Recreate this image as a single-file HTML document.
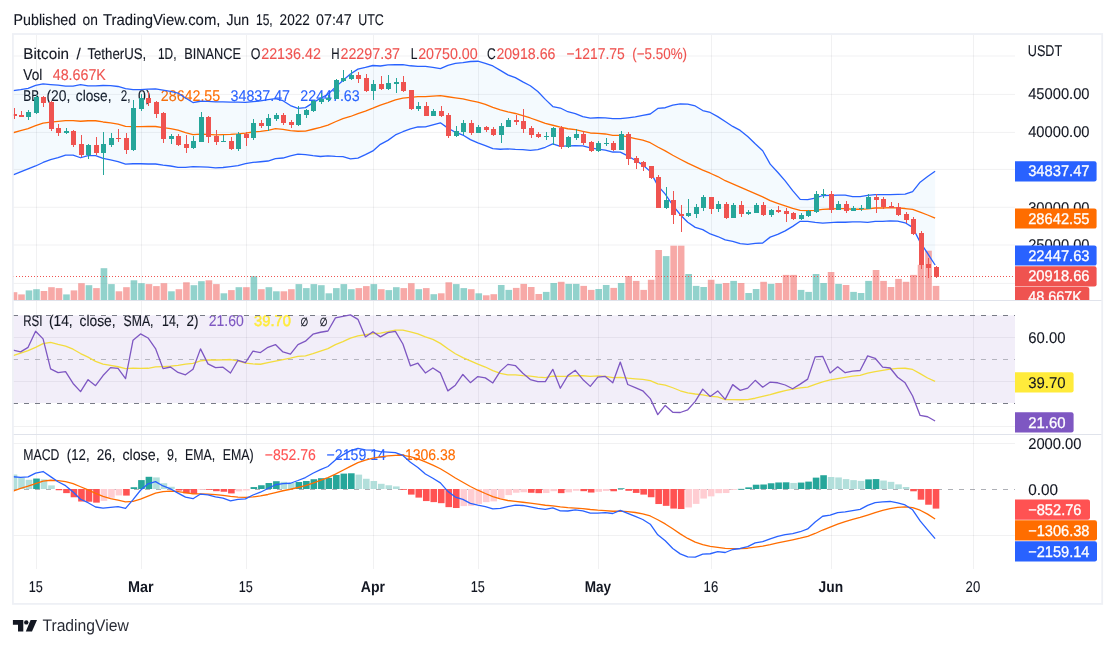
<!DOCTYPE html><html><head><meta charset="utf-8"><title>BTCUSDT chart</title><style>html,body{margin:0;padding:0;background:#fff}</style></head><body><svg width="1115" height="648" viewBox="0 0 1115 648" style="display:block;will-change:transform;text-rendering:geometricPrecision;font-family:'Liberation Sans','DejaVu Sans',sans-serif">
<rect width="1115" height="648" fill="#fff"/>
<defs><clipPath id="c1"><rect x="13.0" y="35.0" width="1002.0" height="265.0"/></clipPath><clipPath id="c2"><rect x="13.0" y="300.0" width="1002.0" height="134.3"/></clipPath><clipPath id="c3"><rect x="13.0" y="434.3" width="1002.0" height="134.40000000000003"/></clipPath><clipPath id="cl"><rect x="1015.0" y="35.0" width="90" height="265.0"/></clipPath></defs>
<g stroke="#2a2e39" stroke-opacity="0.065" stroke-width="1" shape-rendering="crispEdges">
<line x1="36.5" y1="35.0" x2="36.5" y2="568.7"/>
<line x1="141.5" y1="35.0" x2="141.5" y2="568.7"/>
<line x1="246.5" y1="35.0" x2="246.5" y2="568.7"/>
<line x1="373.5" y1="35.0" x2="373.5" y2="568.7"/>
<line x1="478.5" y1="35.0" x2="478.5" y2="568.7"/>
<line x1="598.5" y1="35.0" x2="598.5" y2="568.7"/>
<line x1="711.5" y1="35.0" x2="711.5" y2="568.7"/>
<line x1="831.5" y1="35.0" x2="831.5" y2="568.7"/>
<line x1="973.5" y1="35.0" x2="973.5" y2="568.7"/>
<line x1="13.0" y1="56.0" x2="1015.0" y2="56.0" shape-rendering="auto"/>
<line x1="13.0" y1="94.4" x2="1015.0" y2="94.4" shape-rendering="auto"/>
<line x1="13.0" y1="132.4" x2="1015.0" y2="132.4" shape-rendering="auto"/>
<line x1="13.0" y1="169.4" x2="1015.0" y2="169.4" shape-rendering="auto"/>
<line x1="13.0" y1="207.3" x2="1015.0" y2="207.3" shape-rendering="auto"/>
<line x1="13.0" y1="245.0" x2="1015.0" y2="245.0" shape-rendering="auto"/>
<line x1="13.0" y1="283.4" x2="1015.0" y2="283.4" shape-rendering="auto"/>
<line x1="13.0" y1="337.3" x2="1015.0" y2="337.3"/>
<line x1="13.0" y1="381.1" x2="1015.0" y2="381.1"/>
<line x1="13.0" y1="426.4" x2="1015.0" y2="426.4"/>
<line x1="13.0" y1="443.0" x2="1015.0" y2="443.0"/>
<line x1="13.0" y1="535.0" x2="1015.0" y2="535.0"/>
</g>
<text x="13.5" y="24.7" font-size="15.5" fill="#131722" stroke="#131722" stroke-width="0.12" textLength="62.7" lengthAdjust="spacingAndGlyphs">Published</text>
<text x="82.5" y="24.7" font-size="15.5" fill="#131722" stroke="#131722" stroke-width="0.12" textLength="15.3" lengthAdjust="spacingAndGlyphs">on</text>
<text x="103.1" y="24.7" font-size="15.5" fill="#131722" stroke="#131722" stroke-width="0.12" textLength="117.3" lengthAdjust="spacingAndGlyphs">TradingView.com,</text>
<text x="226.4" y="24.7" font-size="15.5" fill="#131722" stroke="#131722" stroke-width="0.12" textLength="22.6" lengthAdjust="spacingAndGlyphs">Jun</text>
<text x="256.0" y="24.7" font-size="15.5" fill="#131722" stroke="#131722" stroke-width="0.12" textLength="16.7" lengthAdjust="spacingAndGlyphs">15,</text>
<text x="279.6" y="24.7" font-size="15.5" fill="#131722" stroke="#131722" stroke-width="0.12" textLength="30.2" lengthAdjust="spacingAndGlyphs">2022</text>
<text x="316.1" y="24.7" font-size="15.5" fill="#131722" stroke="#131722" stroke-width="0.12" textLength="35.6" lengthAdjust="spacingAndGlyphs">07:47</text>
<text x="358.2" y="24.7" font-size="15.5" fill="#131722" stroke="#131722" stroke-width="0.12" textLength="25.6" lengthAdjust="spacingAndGlyphs">UTC</text>
<text x="23.3" y="58.8" font-size="15.5" fill="#131722" stroke="#131722" stroke-width="0.12" textLength="45.7" lengthAdjust="spacingAndGlyphs">Bitcoin</text>
<text x="76.4" y="58.8" font-size="15.5" fill="#131722" stroke="#131722" stroke-width="0.12">/</text>
<text x="87.4" y="58.8" font-size="15.5" fill="#131722" stroke="#131722" stroke-width="0.12" textLength="58.8" lengthAdjust="spacingAndGlyphs">TetherUS,</text>
<text x="158.0" y="58.8" font-size="15.5" fill="#131722" stroke="#131722" stroke-width="0.12" textLength="18.5" lengthAdjust="spacingAndGlyphs">1D,</text>
<text x="184.3" y="58.8" font-size="15.5" fill="#131722" stroke="#131722" stroke-width="0.12" textLength="56.7" lengthAdjust="spacingAndGlyphs">BINANCE</text>
<text x="250.8" y="58.8" font-size="15.5" fill="#131722" stroke="#131722" stroke-width="0.12" textLength="9.7" lengthAdjust="spacingAndGlyphs">O</text>
<text x="261.2" y="58.8" font-size="15.5" fill="#ef5350" stroke="#ef5350" stroke-width="0.12" textLength="59.7" lengthAdjust="spacingAndGlyphs">22136.42</text>
<text x="331.2" y="58.8" font-size="15.5" fill="#131722" stroke="#131722" stroke-width="0.12" textLength="8.3" lengthAdjust="spacingAndGlyphs">H</text>
<text x="340.5" y="58.8" font-size="15.5" fill="#ef5350" stroke="#ef5350" stroke-width="0.12" textLength="59.5" lengthAdjust="spacingAndGlyphs">22297.37</text>
<text x="410.8" y="58.8" font-size="15.5" fill="#131722" stroke="#131722" stroke-width="0.12" textLength="6.7" lengthAdjust="spacingAndGlyphs">L</text>
<text x="418.2" y="58.8" font-size="15.5" fill="#ef5350" stroke="#ef5350" stroke-width="0.12" textLength="59.5" lengthAdjust="spacingAndGlyphs">20750.00</text>
<text x="487.1" y="58.8" font-size="15.5" fill="#131722" stroke="#131722" stroke-width="0.12" textLength="8.7" lengthAdjust="spacingAndGlyphs">C</text>
<text x="496.4" y="58.8" font-size="15.5" fill="#ef5350" stroke="#ef5350" stroke-width="0.12" textLength="59.0" lengthAdjust="spacingAndGlyphs">20918.66</text>
<text x="566.5" y="58.8" font-size="15.5" fill="#ef5350" stroke="#ef5350" stroke-width="0.12" textLength="58.3" lengthAdjust="spacingAndGlyphs">−1217.75</text>
<text x="632.3" y="58.8" font-size="15.5" fill="#ef5350" stroke="#ef5350" stroke-width="0.12" textLength="54.7" lengthAdjust="spacingAndGlyphs">(−5.50%)</text>
<text x="23.3" y="79.7" font-size="15.5" fill="#131722" stroke="#131722" stroke-width="0.12" textLength="19.0" lengthAdjust="spacingAndGlyphs">Vol</text>
<text x="52.7" y="79.7" font-size="15.5" fill="#ef5350" stroke="#ef5350" stroke-width="0.12" textLength="53.2" lengthAdjust="spacingAndGlyphs">48.667K</text>
<text x="23.3" y="100.8" font-size="15.5" fill="#131722" stroke="#131722" stroke-width="0.12" textLength="16.0" lengthAdjust="spacingAndGlyphs">BB</text>
<text x="46.4" y="100.8" font-size="15.5" fill="#131722" stroke="#131722" stroke-width="0.12" textLength="23.9" lengthAdjust="spacingAndGlyphs">(20,</text>
<text x="75.8" y="100.8" font-size="15.5" fill="#131722" stroke="#131722" stroke-width="0.12" textLength="35.7" lengthAdjust="spacingAndGlyphs">close,</text>
<text x="120.8" y="100.8" font-size="15.5" fill="#131722" stroke="#131722" stroke-width="0.12" textLength="9.7" lengthAdjust="spacingAndGlyphs">2,</text>
<text x="138.1" y="100.8" font-size="15.5" fill="#131722" stroke="#131722" stroke-width="0.12" textLength="12.5" lengthAdjust="spacingAndGlyphs">0)</text>
<text x="160.8" y="100.8" font-size="15.5" fill="#ff6d00" stroke="#ff6d00" stroke-width="0.12" textLength="59.4" lengthAdjust="spacingAndGlyphs">28642.55</text>
<text x="230.6" y="100.8" font-size="15.5" fill="#2962ff" stroke="#2962ff" stroke-width="0.12" textLength="59.4" lengthAdjust="spacingAndGlyphs">34837.47</text>
<text x="300.3" y="100.8" font-size="15.5" fill="#2962ff" stroke="#2962ff" stroke-width="0.12" textLength="59.4" lengthAdjust="spacingAndGlyphs">22447.63</text>
<text x="23.3" y="459.8" font-size="15.5" fill="#131722" stroke="#131722" stroke-width="0.12" textLength="36.0" lengthAdjust="spacingAndGlyphs">MACD</text>
<text x="66.8" y="459.8" font-size="15.5" fill="#131722" stroke="#131722" stroke-width="0.12" textLength="22.8" lengthAdjust="spacingAndGlyphs">(12,</text>
<text x="96.8" y="459.8" font-size="15.5" fill="#131722" stroke="#131722" stroke-width="0.12" textLength="18.8" lengthAdjust="spacingAndGlyphs">26,</text>
<text x="122.4" y="459.8" font-size="15.5" fill="#131722" stroke="#131722" stroke-width="0.12" textLength="37.2" lengthAdjust="spacingAndGlyphs">close,</text>
<text x="167.1" y="459.8" font-size="15.5" fill="#131722" stroke="#131722" stroke-width="0.12" textLength="10.4" lengthAdjust="spacingAndGlyphs">9,</text>
<text x="185.0" y="459.8" font-size="15.5" fill="#131722" stroke="#131722" stroke-width="0.12" textLength="30.2" lengthAdjust="spacingAndGlyphs">EMA,</text>
<text x="222.7" y="459.8" font-size="15.5" fill="#131722" stroke="#131722" stroke-width="0.12" textLength="31.0" lengthAdjust="spacingAndGlyphs">EMA)</text>
<text x="264.8" y="459.8" font-size="15.5" fill="#ff5252" stroke="#ff5252" stroke-width="0.12" textLength="51.1" lengthAdjust="spacingAndGlyphs">−852.76</text>
<text x="326.6" y="459.8" font-size="15.5" fill="#2962ff" stroke="#2962ff" stroke-width="0.12" textLength="59.4" lengthAdjust="spacingAndGlyphs">−2159.14</text>
<text x="396.8" y="459.8" font-size="15.5" fill="#ff6d00" stroke="#ff6d00" stroke-width="0.12" textLength="58.8" lengthAdjust="spacingAndGlyphs">−1306.38</text>
<g clip-path="url(#c1)">
<path d="M13.10,90.54 L20.60,89.53 L28.09,88.33 L35.59,85.37 L43.08,83.81 L50.58,84.54 L58.08,85.15 L65.57,86.10 L73.07,86.05 L80.56,84.71 L88.06,85.88 L95.56,85.82 L103.05,85.51 L110.55,85.66 L118.04,86.49 L125.54,88.54 L133.04,89.64 L140.53,89.57 L148.03,89.06 L155.52,88.98 L163.02,90.16 L170.52,91.32 L178.01,93.03 L185.51,97.97 L193.00,102.56 L200.50,101.26 L208.00,101.46 L215.49,101.84 L222.99,101.84 L230.48,102.17 L237.98,102.03 L245.48,102.43 L252.97,101.62 L260.47,100.97 L267.96,99.71 L275.46,98.68 L282.96,100.73 L290.45,105.57 L297.95,108.31 L305.44,107.62 L312.94,102.87 L320.44,98.27 L327.93,94.37 L335.43,87.13 L342.92,80.41 L350.42,74.03 L357.92,69.15 L365.41,67.47 L372.91,65.50 L380.40,65.99 L387.90,64.84 L395.40,64.73 L402.89,64.64 L410.39,65.77 L417.88,66.40 L425.38,66.43 L432.88,67.44 L440.37,68.53 L447.87,65.38 L455.36,63.38 L462.86,62.71 L470.36,61.49 L477.85,61.23 L485.35,63.29 L492.84,65.96 L500.34,70.35 L507.84,74.91 L515.33,77.62 L522.83,81.84 L530.32,85.71 L537.82,91.54 L545.32,99.39 L552.81,106.55 L560.31,108.02 L567.80,111.71 L575.30,113.72 L582.80,116.72 L590.29,118.05 L597.79,117.77 L605.28,117.80 L612.78,118.53 L620.28,118.67 L627.77,117.82 L635.27,116.84 L642.76,115.37 L650.26,113.99 L657.76,108.44 L665.25,107.74 L672.75,105.21 L680.24,103.87 L687.74,104.06 L695.24,105.98 L702.73,110.57 L710.23,112.45 L717.72,116.59 L725.22,121.55 L732.72,126.44 L740.21,130.40 L747.71,136.50 L755.20,143.83 L762.70,150.70 L770.20,164.15 L777.69,172.20 L785.19,180.83 L792.68,190.58 L800.18,199.41 L807.68,199.71 L815.17,198.21 L822.67,195.50 L830.16,195.47 L837.66,195.04 L845.16,195.18 L852.65,196.69 L860.15,196.67 L867.64,195.45 L875.14,194.54 L882.64,194.61 L890.13,194.54 L897.63,194.44 L905.12,194.22 L912.62,191.56 L920.12,182.16 L927.61,176.53 L935.11,171.24 L935.11,265.02 L927.61,253.46 L920.12,242.22 L912.62,227.39 L905.12,222.81 L897.63,221.18 L890.13,220.81 L882.64,221.43 L875.14,221.41 L867.64,222.33 L860.15,221.81 L852.65,221.82 L845.16,222.23 L837.66,222.08 L830.16,222.53 L822.67,223.09 L815.17,222.41 L807.68,221.46 L800.18,221.30 L792.68,226.34 L785.19,230.91 L777.69,234.38 L770.20,237.12 L762.70,242.98 L755.20,243.32 L747.71,244.42 L740.21,243.69 L732.72,241.27 L725.22,239.90 L717.72,236.51 L710.23,233.99 L702.73,229.64 L695.24,227.34 L687.74,222.17 L680.24,214.67 L672.75,205.25 L665.25,194.11 L657.76,185.58 L650.26,171.38 L642.76,164.89 L635.27,160.23 L627.77,155.95 L620.28,152.07 L612.78,152.02 L605.28,150.16 L597.79,149.02 L590.29,147.93 L582.80,145.84 L575.30,145.69 L567.80,145.80 L560.31,146.31 L552.81,143.95 L545.32,147.27 L537.82,149.72 L530.32,150.28 L522.83,149.53 L515.33,149.36 L507.84,148.92 L500.34,149.26 L492.84,148.63 L485.35,145.67 L477.85,142.84 L470.36,139.59 L462.86,135.06 L455.36,132.23 L447.87,128.11 L440.37,122.81 L432.88,124.78 L425.38,126.92 L417.88,126.98 L410.39,128.90 L402.89,131.73 L395.40,134.96 L387.90,140.37 L380.40,144.32 L372.91,150.90 L365.41,154.58 L357.92,158.04 L350.42,158.95 L342.92,156.72 L335.43,156.35 L327.93,155.81 L320.44,156.52 L312.94,155.64 L305.44,154.56 L297.95,154.18 L290.45,155.77 L282.96,158.02 L275.46,158.64 L267.96,161.02 L260.47,161.75 L252.97,162.39 L245.48,163.69 L237.98,165.62 L230.48,166.58 L222.99,167.49 L215.49,167.80 L208.00,167.16 L200.50,166.95 L193.00,166.72 L185.51,167.43 L178.01,167.40 L170.52,165.99 L163.02,165.15 L155.52,164.00 L148.03,163.99 L140.53,163.77 L133.04,163.74 L125.54,164.18 L118.04,161.57 L110.55,159.93 L103.05,158.44 L95.56,155.68 L88.06,155.57 L80.56,157.75 L73.07,155.14 L65.57,155.03 L58.08,157.64 L50.58,159.62 L43.08,162.47 L35.59,165.98 L28.09,168.88 L20.60,171.90 L13.10,174.98Z" fill="#2196f3" fill-opacity="0.05"/>
<rect x="10.70" y="292.20" width="6.6" height="7.80" fill="#ef5350" fill-opacity="0.5"/>
<rect x="18.20" y="294.40" width="6.6" height="5.60" fill="#ef5350" fill-opacity="0.5"/>
<rect x="25.69" y="290.40" width="6.6" height="9.60" fill="#26a69a" fill-opacity="0.5"/>
<rect x="33.19" y="289.20" width="6.6" height="10.80" fill="#26a69a" fill-opacity="0.5"/>
<rect x="40.68" y="291.00" width="6.6" height="9.00" fill="#ef5350" fill-opacity="0.5"/>
<rect x="48.18" y="287.20" width="6.6" height="12.80" fill="#ef5350" fill-opacity="0.5"/>
<rect x="55.68" y="288.10" width="6.6" height="11.90" fill="#ef5350" fill-opacity="0.5"/>
<rect x="63.17" y="294.40" width="6.6" height="5.60" fill="#26a69a" fill-opacity="0.5"/>
<rect x="70.67" y="290.40" width="6.6" height="9.60" fill="#ef5350" fill-opacity="0.5"/>
<rect x="78.16" y="283.20" width="6.6" height="16.80" fill="#ef5350" fill-opacity="0.5"/>
<rect x="85.66" y="285.20" width="6.6" height="14.80" fill="#26a69a" fill-opacity="0.5"/>
<rect x="93.16" y="288.10" width="6.6" height="11.90" fill="#ef5350" fill-opacity="0.5"/>
<rect x="100.65" y="268.20" width="6.6" height="31.80" fill="#26a69a" fill-opacity="0.5"/>
<rect x="108.15" y="284.10" width="6.6" height="15.90" fill="#26a69a" fill-opacity="0.5"/>
<rect x="115.64" y="291.30" width="6.6" height="8.70" fill="#ef5350" fill-opacity="0.5"/>
<rect x="123.14" y="287.20" width="6.6" height="12.80" fill="#ef5350" fill-opacity="0.5"/>
<rect x="130.64" y="280.30" width="6.6" height="19.70" fill="#26a69a" fill-opacity="0.5"/>
<rect x="138.13" y="283.20" width="6.6" height="16.80" fill="#26a69a" fill-opacity="0.5"/>
<rect x="145.63" y="284.10" width="6.6" height="15.90" fill="#ef5350" fill-opacity="0.5"/>
<rect x="153.12" y="286.10" width="6.6" height="13.90" fill="#ef5350" fill-opacity="0.5"/>
<rect x="160.62" y="283.20" width="6.6" height="16.80" fill="#ef5350" fill-opacity="0.5"/>
<rect x="168.12" y="291.30" width="6.6" height="8.70" fill="#26a69a" fill-opacity="0.5"/>
<rect x="175.61" y="289.20" width="6.6" height="10.80" fill="#ef5350" fill-opacity="0.5"/>
<rect x="183.11" y="282.30" width="6.6" height="17.70" fill="#ef5350" fill-opacity="0.5"/>
<rect x="190.60" y="285.20" width="6.6" height="14.80" fill="#26a69a" fill-opacity="0.5"/>
<rect x="198.10" y="281.20" width="6.6" height="18.80" fill="#26a69a" fill-opacity="0.5"/>
<rect x="205.60" y="280.30" width="6.6" height="19.70" fill="#ef5350" fill-opacity="0.5"/>
<rect x="213.09" y="284.10" width="6.6" height="15.90" fill="#ef5350" fill-opacity="0.5"/>
<rect x="220.59" y="293.30" width="6.6" height="6.70" fill="#26a69a" fill-opacity="0.5"/>
<rect x="228.08" y="290.10" width="6.6" height="9.90" fill="#ef5350" fill-opacity="0.5"/>
<rect x="235.58" y="287.20" width="6.6" height="12.80" fill="#26a69a" fill-opacity="0.5"/>
<rect x="243.08" y="287.20" width="6.6" height="12.80" fill="#ef5350" fill-opacity="0.5"/>
<rect x="250.57" y="276.20" width="6.6" height="23.80" fill="#26a69a" fill-opacity="0.5"/>
<rect x="258.07" y="289.20" width="6.6" height="10.80" fill="#ef5350" fill-opacity="0.5"/>
<rect x="265.56" y="287.20" width="6.6" height="12.80" fill="#26a69a" fill-opacity="0.5"/>
<rect x="273.06" y="291.30" width="6.6" height="8.70" fill="#26a69a" fill-opacity="0.5"/>
<rect x="280.56" y="291.30" width="6.6" height="8.70" fill="#ef5350" fill-opacity="0.5"/>
<rect x="288.05" y="289.20" width="6.6" height="10.80" fill="#ef5350" fill-opacity="0.5"/>
<rect x="295.55" y="284.10" width="6.6" height="15.90" fill="#26a69a" fill-opacity="0.5"/>
<rect x="303.04" y="288.10" width="6.6" height="11.90" fill="#26a69a" fill-opacity="0.5"/>
<rect x="310.54" y="284.10" width="6.6" height="15.90" fill="#26a69a" fill-opacity="0.5"/>
<rect x="318.04" y="285.20" width="6.6" height="14.80" fill="#26a69a" fill-opacity="0.5"/>
<rect x="325.53" y="293.30" width="6.6" height="6.70" fill="#26a69a" fill-opacity="0.5"/>
<rect x="333.03" y="288.10" width="6.6" height="11.90" fill="#26a69a" fill-opacity="0.5"/>
<rect x="340.52" y="284.10" width="6.6" height="15.90" fill="#26a69a" fill-opacity="0.5"/>
<rect x="348.02" y="289.20" width="6.6" height="10.80" fill="#26a69a" fill-opacity="0.5"/>
<rect x="355.52" y="288.10" width="6.6" height="11.90" fill="#ef5350" fill-opacity="0.5"/>
<rect x="363.01" y="286.10" width="6.6" height="13.90" fill="#ef5350" fill-opacity="0.5"/>
<rect x="370.51" y="284.10" width="6.6" height="15.90" fill="#26a69a" fill-opacity="0.5"/>
<rect x="378.00" y="289.20" width="6.6" height="10.80" fill="#ef5350" fill-opacity="0.5"/>
<rect x="385.50" y="290.10" width="6.6" height="9.90" fill="#26a69a" fill-opacity="0.5"/>
<rect x="393.00" y="287.20" width="6.6" height="12.80" fill="#26a69a" fill-opacity="0.5"/>
<rect x="400.49" y="288.10" width="6.6" height="11.90" fill="#ef5350" fill-opacity="0.5"/>
<rect x="407.99" y="283.20" width="6.6" height="16.80" fill="#ef5350" fill-opacity="0.5"/>
<rect x="415.48" y="289.20" width="6.6" height="10.80" fill="#26a69a" fill-opacity="0.5"/>
<rect x="422.98" y="288.10" width="6.6" height="11.90" fill="#ef5350" fill-opacity="0.5"/>
<rect x="430.48" y="294.20" width="6.6" height="5.80" fill="#26a69a" fill-opacity="0.5"/>
<rect x="437.97" y="293.30" width="6.6" height="6.70" fill="#ef5350" fill-opacity="0.5"/>
<rect x="445.47" y="282.30" width="6.6" height="17.70" fill="#ef5350" fill-opacity="0.5"/>
<rect x="452.96" y="284.10" width="6.6" height="15.90" fill="#26a69a" fill-opacity="0.5"/>
<rect x="460.46" y="288.10" width="6.6" height="11.90" fill="#26a69a" fill-opacity="0.5"/>
<rect x="467.96" y="289.20" width="6.6" height="10.80" fill="#ef5350" fill-opacity="0.5"/>
<rect x="475.45" y="293.30" width="6.6" height="6.70" fill="#26a69a" fill-opacity="0.5"/>
<rect x="482.95" y="295.30" width="6.6" height="4.70" fill="#ef5350" fill-opacity="0.5"/>
<rect x="490.44" y="294.20" width="6.6" height="5.80" fill="#ef5350" fill-opacity="0.5"/>
<rect x="497.94" y="285.00" width="6.6" height="15.00" fill="#26a69a" fill-opacity="0.5"/>
<rect x="505.44" y="289.90" width="6.6" height="10.10" fill="#26a69a" fill-opacity="0.5"/>
<rect x="512.93" y="287.90" width="6.6" height="12.10" fill="#ef5350" fill-opacity="0.5"/>
<rect x="520.43" y="283.90" width="6.6" height="16.10" fill="#ef5350" fill-opacity="0.5"/>
<rect x="527.92" y="287.00" width="6.6" height="13.00" fill="#ef5350" fill-opacity="0.5"/>
<rect x="535.42" y="294.00" width="6.6" height="6.00" fill="#ef5350" fill-opacity="0.5"/>
<rect x="542.92" y="291.90" width="6.6" height="8.10" fill="#26a69a" fill-opacity="0.5"/>
<rect x="550.41" y="283.00" width="6.6" height="17.00" fill="#26a69a" fill-opacity="0.5"/>
<rect x="557.91" y="281.80" width="6.6" height="18.20" fill="#ef5350" fill-opacity="0.5"/>
<rect x="565.40" y="283.90" width="6.6" height="16.10" fill="#26a69a" fill-opacity="0.5"/>
<rect x="572.90" y="283.90" width="6.6" height="16.10" fill="#26a69a" fill-opacity="0.5"/>
<rect x="580.40" y="285.90" width="6.6" height="14.10" fill="#ef5350" fill-opacity="0.5"/>
<rect x="587.89" y="289.90" width="6.6" height="10.10" fill="#ef5350" fill-opacity="0.5"/>
<rect x="595.39" y="289.00" width="6.6" height="11.00" fill="#26a69a" fill-opacity="0.5"/>
<rect x="602.88" y="285.00" width="6.6" height="15.00" fill="#26a69a" fill-opacity="0.5"/>
<rect x="610.38" y="287.90" width="6.6" height="12.10" fill="#ef5350" fill-opacity="0.5"/>
<rect x="617.88" y="283.00" width="6.6" height="17.00" fill="#26a69a" fill-opacity="0.5"/>
<rect x="625.37" y="276.00" width="6.6" height="24.00" fill="#ef5350" fill-opacity="0.5"/>
<rect x="632.87" y="280.90" width="6.6" height="19.10" fill="#ef5350" fill-opacity="0.5"/>
<rect x="640.36" y="289.90" width="6.6" height="10.10" fill="#ef5350" fill-opacity="0.5"/>
<rect x="647.86" y="279.80" width="6.6" height="20.20" fill="#ef5350" fill-opacity="0.5"/>
<rect x="655.36" y="250.00" width="6.6" height="50.00" fill="#ef5350" fill-opacity="0.5"/>
<rect x="662.85" y="256.10" width="6.6" height="43.90" fill="#26a69a" fill-opacity="0.5"/>
<rect x="670.35" y="245.70" width="6.6" height="54.30" fill="#ef5350" fill-opacity="0.5"/>
<rect x="677.84" y="245.70" width="6.6" height="54.30" fill="#ef5350" fill-opacity="0.5"/>
<rect x="685.34" y="274.00" width="6.6" height="26.00" fill="#26a69a" fill-opacity="0.5"/>
<rect x="692.84" y="285.90" width="6.6" height="14.10" fill="#26a69a" fill-opacity="0.5"/>
<rect x="700.33" y="287.00" width="6.6" height="13.00" fill="#26a69a" fill-opacity="0.5"/>
<rect x="707.83" y="279.80" width="6.6" height="20.20" fill="#ef5350" fill-opacity="0.5"/>
<rect x="715.32" y="283.90" width="6.6" height="16.10" fill="#26a69a" fill-opacity="0.5"/>
<rect x="722.82" y="283.00" width="6.6" height="17.00" fill="#ef5350" fill-opacity="0.5"/>
<rect x="730.32" y="280.90" width="6.6" height="19.10" fill="#26a69a" fill-opacity="0.5"/>
<rect x="737.81" y="283.00" width="6.6" height="17.00" fill="#ef5350" fill-opacity="0.5"/>
<rect x="745.31" y="293.00" width="6.6" height="7.00" fill="#26a69a" fill-opacity="0.5"/>
<rect x="752.80" y="289.00" width="6.6" height="11.00" fill="#26a69a" fill-opacity="0.5"/>
<rect x="760.30" y="281.80" width="6.6" height="18.20" fill="#ef5350" fill-opacity="0.5"/>
<rect x="767.80" y="283.90" width="6.6" height="16.10" fill="#26a69a" fill-opacity="0.5"/>
<rect x="775.29" y="283.00" width="6.6" height="17.00" fill="#ef5350" fill-opacity="0.5"/>
<rect x="782.79" y="274.90" width="6.6" height="25.10" fill="#ef5350" fill-opacity="0.5"/>
<rect x="790.28" y="274.90" width="6.6" height="25.10" fill="#ef5350" fill-opacity="0.5"/>
<rect x="797.78" y="289.90" width="6.6" height="10.10" fill="#26a69a" fill-opacity="0.5"/>
<rect x="805.28" y="291.90" width="6.6" height="8.10" fill="#26a69a" fill-opacity="0.5"/>
<rect x="812.77" y="274.00" width="6.6" height="26.00" fill="#26a69a" fill-opacity="0.5"/>
<rect x="820.27" y="283.00" width="6.6" height="17.00" fill="#26a69a" fill-opacity="0.5"/>
<rect x="827.76" y="272.00" width="6.6" height="28.00" fill="#ef5350" fill-opacity="0.5"/>
<rect x="835.26" y="283.90" width="6.6" height="16.10" fill="#26a69a" fill-opacity="0.5"/>
<rect x="842.76" y="285.00" width="6.6" height="15.00" fill="#ef5350" fill-opacity="0.5"/>
<rect x="850.25" y="291.90" width="6.6" height="8.10" fill="#26a69a" fill-opacity="0.5"/>
<rect x="857.75" y="293.00" width="6.6" height="7.00" fill="#26a69a" fill-opacity="0.5"/>
<rect x="865.24" y="280.90" width="6.6" height="19.10" fill="#26a69a" fill-opacity="0.5"/>
<rect x="872.74" y="270.00" width="6.6" height="30.00" fill="#ef5350" fill-opacity="0.5"/>
<rect x="880.24" y="280.90" width="6.6" height="19.10" fill="#ef5350" fill-opacity="0.5"/>
<rect x="887.73" y="287.00" width="6.6" height="13.00" fill="#ef5350" fill-opacity="0.5"/>
<rect x="895.23" y="278.90" width="6.6" height="21.10" fill="#ef5350" fill-opacity="0.5"/>
<rect x="902.72" y="281.80" width="6.6" height="18.20" fill="#ef5350" fill-opacity="0.5"/>
<rect x="910.22" y="274.90" width="6.6" height="25.10" fill="#ef5350" fill-opacity="0.5"/>
<rect x="917.72" y="264.80" width="6.6" height="35.20" fill="#ef5350" fill-opacity="0.5"/>
<rect x="925.21" y="250.70" width="6.6" height="49.30" fill="#ef5350" fill-opacity="0.5"/>
<rect x="932.71" y="285.90" width="6.6" height="14.10" fill="#ef5350" fill-opacity="0.5"/>
<path d="M13.10,132.76 L20.60,130.72 L28.09,128.61 L35.59,125.68 L43.08,123.14 L50.58,122.08 L58.08,121.39 L65.57,120.56 L73.07,120.59 L80.56,121.23 L88.06,120.73 L95.56,120.75 L103.05,121.98 L110.55,122.80 L118.04,124.03 L125.54,126.36 L133.04,126.69 L140.53,126.67 L148.03,126.52 L155.52,126.49 L163.02,127.65 L170.52,128.66 L178.01,130.22 L185.51,132.70 L193.00,134.64 L200.50,134.10 L208.00,134.31 L215.49,134.82 L222.99,134.66 L230.48,134.37 L237.98,133.83 L245.48,133.06 L252.97,132.00 L260.47,131.36 L267.96,130.36 L275.46,128.66 L282.96,129.38 L290.45,130.67 L297.95,131.25 L305.44,131.09 L312.94,129.25 L320.44,127.39 L327.93,125.09 L335.43,121.74 L342.92,118.57 L350.42,116.49 L357.92,113.59 L365.41,111.03 L372.91,108.20 L380.40,105.16 L387.90,102.61 L395.40,99.84 L402.89,98.18 L410.39,97.33 L417.88,96.69 L425.38,96.67 L432.88,96.11 L440.37,95.67 L447.87,96.74 L455.36,97.81 L462.86,98.88 L470.36,100.54 L477.85,102.04 L485.35,104.48 L492.84,107.30 L500.34,109.81 L507.84,111.92 L515.33,113.49 L522.83,115.68 L530.32,117.99 L537.82,120.63 L545.32,123.33 L552.81,125.25 L560.31,127.16 L567.80,128.76 L575.30,129.71 L582.80,131.28 L590.29,132.99 L597.79,133.39 L605.28,133.98 L612.78,135.28 L620.28,135.37 L627.77,136.88 L635.27,138.54 L642.76,140.13 L650.26,142.69 L657.76,147.01 L665.25,150.92 L672.75,155.23 L680.24,159.27 L687.74,163.12 L695.24,166.66 L702.73,170.10 L710.23,173.22 L717.72,176.55 L725.22,180.72 L732.72,183.86 L740.21,187.05 L747.71,190.46 L755.20,193.58 L762.70,196.84 L770.20,200.64 L777.69,203.29 L785.19,205.87 L792.68,208.46 L800.18,210.35 L807.68,210.58 L815.17,210.31 L822.67,209.29 L830.16,209.00 L837.66,208.56 L845.16,208.70 L852.65,209.26 L860.15,209.24 L867.64,208.89 L875.14,207.98 L882.64,208.02 L890.13,207.68 L897.63,207.81 L905.12,208.52 L912.62,209.48 L920.12,212.19 L927.61,214.99 L935.11,218.13" fill="none" stroke="#ff6d00" stroke-width="1.3" stroke-linejoin="round"/>
<path d="M13.10,90.54 L20.60,89.53 L28.09,88.33 L35.59,85.37 L43.08,83.81 L50.58,84.54 L58.08,85.15 L65.57,86.10 L73.07,86.05 L80.56,84.71 L88.06,85.88 L95.56,85.82 L103.05,85.51 L110.55,85.66 L118.04,86.49 L125.54,88.54 L133.04,89.64 L140.53,89.57 L148.03,89.06 L155.52,88.98 L163.02,90.16 L170.52,91.32 L178.01,93.03 L185.51,97.97 L193.00,102.56 L200.50,101.26 L208.00,101.46 L215.49,101.84 L222.99,101.84 L230.48,102.17 L237.98,102.03 L245.48,102.43 L252.97,101.62 L260.47,100.97 L267.96,99.71 L275.46,98.68 L282.96,100.73 L290.45,105.57 L297.95,108.31 L305.44,107.62 L312.94,102.87 L320.44,98.27 L327.93,94.37 L335.43,87.13 L342.92,80.41 L350.42,74.03 L357.92,69.15 L365.41,67.47 L372.91,65.50 L380.40,65.99 L387.90,64.84 L395.40,64.73 L402.89,64.64 L410.39,65.77 L417.88,66.40 L425.38,66.43 L432.88,67.44 L440.37,68.53 L447.87,65.38 L455.36,63.38 L462.86,62.71 L470.36,61.49 L477.85,61.23 L485.35,63.29 L492.84,65.96 L500.34,70.35 L507.84,74.91 L515.33,77.62 L522.83,81.84 L530.32,85.71 L537.82,91.54 L545.32,99.39 L552.81,106.55 L560.31,108.02 L567.80,111.71 L575.30,113.72 L582.80,116.72 L590.29,118.05 L597.79,117.77 L605.28,117.80 L612.78,118.53 L620.28,118.67 L627.77,117.82 L635.27,116.84 L642.76,115.37 L650.26,113.99 L657.76,108.44 L665.25,107.74 L672.75,105.21 L680.24,103.87 L687.74,104.06 L695.24,105.98 L702.73,110.57 L710.23,112.45 L717.72,116.59 L725.22,121.55 L732.72,126.44 L740.21,130.40 L747.71,136.50 L755.20,143.83 L762.70,150.70 L770.20,164.15 L777.69,172.20 L785.19,180.83 L792.68,190.58 L800.18,199.41 L807.68,199.71 L815.17,198.21 L822.67,195.50 L830.16,195.47 L837.66,195.04 L845.16,195.18 L852.65,196.69 L860.15,196.67 L867.64,195.45 L875.14,194.54 L882.64,194.61 L890.13,194.54 L897.63,194.44 L905.12,194.22 L912.62,191.56 L920.12,182.16 L927.61,176.53 L935.11,171.24" fill="none" stroke="#2962ff" stroke-width="1.3" stroke-linejoin="round"/>
<path d="M13.10,174.98 L20.60,171.90 L28.09,168.88 L35.59,165.98 L43.08,162.47 L50.58,159.62 L58.08,157.64 L65.57,155.03 L73.07,155.14 L80.56,157.75 L88.06,155.57 L95.56,155.68 L103.05,158.44 L110.55,159.93 L118.04,161.57 L125.54,164.18 L133.04,163.74 L140.53,163.77 L148.03,163.99 L155.52,164.00 L163.02,165.15 L170.52,165.99 L178.01,167.40 L185.51,167.43 L193.00,166.72 L200.50,166.95 L208.00,167.16 L215.49,167.80 L222.99,167.49 L230.48,166.58 L237.98,165.62 L245.48,163.69 L252.97,162.39 L260.47,161.75 L267.96,161.02 L275.46,158.64 L282.96,158.02 L290.45,155.77 L297.95,154.18 L305.44,154.56 L312.94,155.64 L320.44,156.52 L327.93,155.81 L335.43,156.35 L342.92,156.72 L350.42,158.95 L357.92,158.04 L365.41,154.58 L372.91,150.90 L380.40,144.32 L387.90,140.37 L395.40,134.96 L402.89,131.73 L410.39,128.90 L417.88,126.98 L425.38,126.92 L432.88,124.78 L440.37,122.81 L447.87,128.11 L455.36,132.23 L462.86,135.06 L470.36,139.59 L477.85,142.84 L485.35,145.67 L492.84,148.63 L500.34,149.26 L507.84,148.92 L515.33,149.36 L522.83,149.53 L530.32,150.28 L537.82,149.72 L545.32,147.27 L552.81,143.95 L560.31,146.31 L567.80,145.80 L575.30,145.69 L582.80,145.84 L590.29,147.93 L597.79,149.02 L605.28,150.16 L612.78,152.02 L620.28,152.07 L627.77,155.95 L635.27,160.23 L642.76,164.89 L650.26,171.38 L657.76,185.58 L665.25,194.11 L672.75,205.25 L680.24,214.67 L687.74,222.17 L695.24,227.34 L702.73,229.64 L710.23,233.99 L717.72,236.51 L725.22,239.90 L732.72,241.27 L740.21,243.69 L747.71,244.42 L755.20,243.32 L762.70,242.98 L770.20,237.12 L777.69,234.38 L785.19,230.91 L792.68,226.34 L800.18,221.30 L807.68,221.46 L815.17,222.41 L822.67,223.09 L830.16,222.53 L837.66,222.08 L845.16,222.23 L852.65,221.82 L860.15,221.81 L867.64,222.33 L875.14,221.41 L882.64,221.43 L890.13,220.81 L897.63,221.18 L905.12,222.81 L912.62,227.39 L920.12,242.22 L927.61,253.46 L935.11,265.02" fill="none" stroke="#2962ff" stroke-width="1.3" stroke-linejoin="round"/>
<rect x="14" y="108" width="1" height="11" fill="#ef5350"/>
<rect x="12" y="114" width="5" height="2" fill="#ef5350"/>
<rect x="21" y="111" width="1" height="6" fill="#ef5350"/>
<rect x="19" y="115" width="5" height="2" fill="#ef5350"/>
<rect x="28" y="110" width="1" height="10" fill="#26a69a"/>
<rect x="26" y="112" width="5" height="5" fill="#26a69a"/>
<rect x="36" y="95" width="1" height="19" fill="#26a69a"/>
<rect x="34" y="97" width="5" height="16" fill="#26a69a"/>
<rect x="43" y="96" width="1" height="11" fill="#ef5350"/>
<rect x="41" y="97" width="5" height="6" fill="#ef5350"/>
<rect x="51" y="101" width="1" height="30" fill="#ef5350"/>
<rect x="49" y="102" width="5" height="27" fill="#ef5350"/>
<rect x="58" y="124" width="1" height="12" fill="#ef5350"/>
<rect x="56" y="128" width="5" height="5" fill="#ef5350"/>
<rect x="66" y="128" width="1" height="6" fill="#26a69a"/>
<rect x="64" y="131" width="5" height="2" fill="#26a69a"/>
<rect x="73" y="130" width="1" height="17" fill="#ef5350"/>
<rect x="71" y="131" width="5" height="14" fill="#ef5350"/>
<rect x="81" y="135" width="1" height="22" fill="#ef5350"/>
<rect x="79" y="144" width="5" height="11" fill="#ef5350"/>
<rect x="88" y="144" width="1" height="15" fill="#26a69a"/>
<rect x="86" y="145" width="5" height="10" fill="#26a69a"/>
<rect x="96" y="137" width="1" height="18" fill="#ef5350"/>
<rect x="94" y="145" width="5" height="8" fill="#ef5350"/>
<rect x="103" y="132" width="1" height="43" fill="#26a69a"/>
<rect x="101" y="144" width="5" height="9" fill="#26a69a"/>
<rect x="111" y="133" width="1" height="14" fill="#26a69a"/>
<rect x="109" y="138" width="5" height="7" fill="#26a69a"/>
<rect x="118" y="129" width="1" height="13" fill="#ef5350"/>
<rect x="116" y="138" width="5" height="1" fill="#ef5350"/>
<rect x="126" y="133" width="1" height="21" fill="#ef5350"/>
<rect x="124" y="138" width="5" height="12" fill="#ef5350"/>
<rect x="133" y="100" width="1" height="51" fill="#26a69a"/>
<rect x="131" y="108" width="5" height="42" fill="#26a69a"/>
<rect x="141" y="94" width="1" height="17" fill="#26a69a"/>
<rect x="139" y="98" width="5" height="11" fill="#26a69a"/>
<rect x="148" y="92" width="1" height="14" fill="#ef5350"/>
<rect x="146" y="98" width="5" height="5" fill="#ef5350"/>
<rect x="156" y="101" width="1" height="17" fill="#ef5350"/>
<rect x="154" y="102" width="5" height="12" fill="#ef5350"/>
<rect x="163" y="112" width="1" height="31" fill="#ef5350"/>
<rect x="161" y="113" width="5" height="26" fill="#ef5350"/>
<rect x="171" y="134" width="1" height="10" fill="#26a69a"/>
<rect x="169" y="136" width="5" height="3" fill="#26a69a"/>
<rect x="178" y="134" width="1" height="12" fill="#ef5350"/>
<rect x="176" y="136" width="5" height="9" fill="#ef5350"/>
<rect x="186" y="135" width="1" height="18" fill="#ef5350"/>
<rect x="184" y="144" width="5" height="4" fill="#ef5350"/>
<rect x="193" y="136" width="1" height="13" fill="#26a69a"/>
<rect x="191" y="141" width="5" height="7" fill="#26a69a"/>
<rect x="201" y="112" width="1" height="30" fill="#26a69a"/>
<rect x="199" y="117" width="5" height="25" fill="#26a69a"/>
<rect x="208" y="116" width="1" height="27" fill="#ef5350"/>
<rect x="206" y="117" width="5" height="20" fill="#ef5350"/>
<rect x="216" y="130" width="1" height="15" fill="#ef5350"/>
<rect x="214" y="136" width="5" height="6" fill="#ef5350"/>
<rect x="223" y="135" width="1" height="7" fill="#26a69a"/>
<rect x="221" y="141" width="5" height="1" fill="#26a69a"/>
<rect x="231" y="137" width="1" height="13" fill="#ef5350"/>
<rect x="229" y="141" width="5" height="8" fill="#ef5350"/>
<rect x="238" y="132" width="1" height="19" fill="#26a69a"/>
<rect x="236" y="134" width="5" height="15" fill="#26a69a"/>
<rect x="246" y="132" width="1" height="14" fill="#ef5350"/>
<rect x="244" y="134" width="5" height="4" fill="#ef5350"/>
<rect x="253" y="119" width="1" height="21" fill="#26a69a"/>
<rect x="251" y="123" width="5" height="15" fill="#26a69a"/>
<rect x="261" y="120" width="1" height="8" fill="#ef5350"/>
<rect x="259" y="123" width="5" height="3" fill="#ef5350"/>
<rect x="268" y="114" width="1" height="17" fill="#26a69a"/>
<rect x="266" y="118" width="5" height="8" fill="#26a69a"/>
<rect x="276" y="113" width="1" height="8" fill="#26a69a"/>
<rect x="274" y="115" width="5" height="4" fill="#26a69a"/>
<rect x="283" y="113" width="1" height="12" fill="#ef5350"/>
<rect x="281" y="115" width="5" height="8" fill="#ef5350"/>
<rect x="291" y="120" width="1" height="8" fill="#ef5350"/>
<rect x="289" y="122" width="5" height="3" fill="#ef5350"/>
<rect x="298" y="106" width="1" height="20" fill="#26a69a"/>
<rect x="296" y="114" width="5" height="11" fill="#26a69a"/>
<rect x="306" y="109" width="1" height="9" fill="#26a69a"/>
<rect x="304" y="110" width="5" height="5" fill="#26a69a"/>
<rect x="313" y="100" width="1" height="12" fill="#26a69a"/>
<rect x="311" y="101" width="5" height="10" fill="#26a69a"/>
<rect x="321" y="93" width="1" height="11" fill="#26a69a"/>
<rect x="319" y="99" width="5" height="3" fill="#26a69a"/>
<rect x="328" y="95" width="1" height="7" fill="#26a69a"/>
<rect x="326" y="98" width="5" height="2" fill="#26a69a"/>
<rect x="336" y="79" width="1" height="20" fill="#26a69a"/>
<rect x="334" y="80" width="5" height="19" fill="#26a69a"/>
<rect x="343" y="70" width="1" height="12" fill="#26a69a"/>
<rect x="341" y="78" width="5" height="3" fill="#26a69a"/>
<rect x="351" y="70" width="1" height="10" fill="#26a69a"/>
<rect x="349" y="75" width="5" height="4" fill="#26a69a"/>
<rect x="358" y="72" width="1" height="11" fill="#ef5350"/>
<rect x="356" y="75" width="5" height="4" fill="#ef5350"/>
<rect x="366" y="74" width="1" height="18" fill="#ef5350"/>
<rect x="364" y="78" width="5" height="13" fill="#ef5350"/>
<rect x="373" y="80" width="1" height="20" fill="#26a69a"/>
<rect x="371" y="84" width="5" height="7" fill="#26a69a"/>
<rect x="381" y="76" width="1" height="14" fill="#ef5350"/>
<rect x="379" y="84" width="5" height="5" fill="#ef5350"/>
<rect x="388" y="75" width="1" height="15" fill="#26a69a"/>
<rect x="386" y="83" width="5" height="6" fill="#26a69a"/>
<rect x="396" y="78" width="1" height="15" fill="#26a69a"/>
<rect x="394" y="82" width="5" height="2" fill="#26a69a"/>
<rect x="403" y="76" width="1" height="16" fill="#ef5350"/>
<rect x="401" y="82" width="5" height="9" fill="#ef5350"/>
<rect x="411" y="90" width="1" height="20" fill="#ef5350"/>
<rect x="409" y="90" width="5" height="19" fill="#ef5350"/>
<rect x="418" y="102" width="1" height="9" fill="#26a69a"/>
<rect x="416" y="106" width="5" height="3" fill="#26a69a"/>
<rect x="426" y="102" width="1" height="14" fill="#ef5350"/>
<rect x="424" y="106" width="5" height="10" fill="#ef5350"/>
<rect x="433" y="109" width="1" height="7" fill="#26a69a"/>
<rect x="431" y="111" width="5" height="5" fill="#26a69a"/>
<rect x="441" y="106" width="1" height="11" fill="#ef5350"/>
<rect x="439" y="111" width="5" height="5" fill="#ef5350"/>
<rect x="448" y="113" width="1" height="25" fill="#ef5350"/>
<rect x="446" y="115" width="5" height="21" fill="#ef5350"/>
<rect x="456" y="126" width="1" height="11" fill="#26a69a"/>
<rect x="454" y="131" width="5" height="5" fill="#26a69a"/>
<rect x="463" y="120" width="1" height="15" fill="#26a69a"/>
<rect x="461" y="123" width="5" height="9" fill="#26a69a"/>
<rect x="471" y="120" width="1" height="15" fill="#ef5350"/>
<rect x="469" y="123" width="5" height="10" fill="#ef5350"/>
<rect x="478" y="125" width="1" height="8" fill="#26a69a"/>
<rect x="476" y="127" width="5" height="6" fill="#26a69a"/>
<rect x="486" y="126" width="1" height="6" fill="#ef5350"/>
<rect x="484" y="127" width="5" height="3" fill="#ef5350"/>
<rect x="493" y="127" width="1" height="9" fill="#ef5350"/>
<rect x="491" y="129" width="5" height="6" fill="#ef5350"/>
<rect x="501" y="123" width="1" height="20" fill="#26a69a"/>
<rect x="499" y="126" width="5" height="9" fill="#26a69a"/>
<rect x="508" y="118" width="1" height="9" fill="#26a69a"/>
<rect x="506" y="120" width="5" height="7" fill="#26a69a"/>
<rect x="516" y="115" width="1" height="10" fill="#ef5350"/>
<rect x="514" y="120" width="5" height="2" fill="#ef5350"/>
<rect x="523" y="109" width="1" height="24" fill="#ef5350"/>
<rect x="521" y="121" width="5" height="8" fill="#ef5350"/>
<rect x="531" y="126" width="1" height="12" fill="#ef5350"/>
<rect x="529" y="128" width="5" height="7" fill="#ef5350"/>
<rect x="538" y="132" width="1" height="6" fill="#ef5350"/>
<rect x="536" y="134" width="5" height="3" fill="#ef5350"/>
<rect x="546" y="132" width="1" height="8" fill="#26a69a"/>
<rect x="544" y="136" width="5" height="1" fill="#26a69a"/>
<rect x="553" y="127" width="1" height="18" fill="#26a69a"/>
<rect x="551" y="128" width="5" height="9" fill="#26a69a"/>
<rect x="561" y="126" width="1" height="23" fill="#ef5350"/>
<rect x="559" y="128" width="5" height="19" fill="#ef5350"/>
<rect x="568" y="136" width="1" height="12" fill="#26a69a"/>
<rect x="566" y="137" width="5" height="10" fill="#26a69a"/>
<rect x="576" y="129" width="1" height="11" fill="#26a69a"/>
<rect x="574" y="134" width="5" height="4" fill="#26a69a"/>
<rect x="583" y="131" width="1" height="14" fill="#ef5350"/>
<rect x="581" y="134" width="5" height="9" fill="#ef5350"/>
<rect x="591" y="141" width="1" height="11" fill="#ef5350"/>
<rect x="589" y="142" width="5" height="9" fill="#ef5350"/>
<rect x="598" y="141" width="1" height="11" fill="#26a69a"/>
<rect x="596" y="143" width="5" height="8" fill="#26a69a"/>
<rect x="606" y="138" width="1" height="8" fill="#26a69a"/>
<rect x="604" y="143" width="5" height="1" fill="#26a69a"/>
<rect x="613" y="141" width="1" height="10" fill="#ef5350"/>
<rect x="611" y="143" width="5" height="7" fill="#ef5350"/>
<rect x="621" y="131" width="1" height="19" fill="#26a69a"/>
<rect x="619" y="134" width="5" height="16" fill="#26a69a"/>
<rect x="628" y="132" width="1" height="33" fill="#ef5350"/>
<rect x="626" y="134" width="5" height="25" fill="#ef5350"/>
<rect x="636" y="156" width="1" height="13" fill="#ef5350"/>
<rect x="634" y="158" width="5" height="5" fill="#ef5350"/>
<rect x="643" y="161" width="1" height="10" fill="#ef5350"/>
<rect x="641" y="162" width="5" height="5" fill="#ef5350"/>
<rect x="651" y="166" width="1" height="13" fill="#ef5350"/>
<rect x="649" y="166" width="5" height="12" fill="#ef5350"/>
<rect x="658" y="175" width="1" height="33" fill="#ef5350"/>
<rect x="656" y="177" width="5" height="31" fill="#ef5350"/>
<rect x="666" y="187" width="1" height="22" fill="#26a69a"/>
<rect x="664" y="200" width="5" height="8" fill="#26a69a"/>
<rect x="673" y="191" width="1" height="33" fill="#ef5350"/>
<rect x="671" y="200" width="5" height="15" fill="#ef5350"/>
<rect x="681" y="205" width="1" height="27" fill="#ef5350"/>
<rect x="679" y="214" width="5" height="2" fill="#ef5350"/>
<rect x="688" y="199" width="1" height="18" fill="#26a69a"/>
<rect x="686" y="213" width="5" height="3" fill="#26a69a"/>
<rect x="696" y="204" width="1" height="14" fill="#26a69a"/>
<rect x="694" y="207" width="5" height="7" fill="#26a69a"/>
<rect x="703" y="195" width="1" height="16" fill="#26a69a"/>
<rect x="701" y="197" width="5" height="11" fill="#26a69a"/>
<rect x="711" y="197" width="1" height="17" fill="#ef5350"/>
<rect x="709" y="197" width="5" height="12" fill="#ef5350"/>
<rect x="718" y="201" width="1" height="11" fill="#26a69a"/>
<rect x="716" y="204" width="5" height="5" fill="#26a69a"/>
<rect x="726" y="202" width="1" height="17" fill="#ef5350"/>
<rect x="724" y="204" width="5" height="14" fill="#ef5350"/>
<rect x="733" y="203" width="1" height="15" fill="#26a69a"/>
<rect x="731" y="205" width="5" height="13" fill="#26a69a"/>
<rect x="741" y="201" width="1" height="16" fill="#ef5350"/>
<rect x="739" y="205" width="5" height="9" fill="#ef5350"/>
<rect x="748" y="210" width="1" height="5" fill="#26a69a"/>
<rect x="746" y="212" width="5" height="2" fill="#26a69a"/>
<rect x="756" y="203" width="1" height="10" fill="#26a69a"/>
<rect x="754" y="205" width="5" height="8" fill="#26a69a"/>
<rect x="763" y="202" width="1" height="14" fill="#ef5350"/>
<rect x="761" y="205" width="5" height="10" fill="#ef5350"/>
<rect x="771" y="209" width="1" height="8" fill="#26a69a"/>
<rect x="769" y="210" width="5" height="5" fill="#26a69a"/>
<rect x="778" y="206" width="1" height="7" fill="#ef5350"/>
<rect x="776" y="210" width="5" height="2" fill="#ef5350"/>
<rect x="786" y="208" width="1" height="14" fill="#ef5350"/>
<rect x="784" y="211" width="5" height="3" fill="#ef5350"/>
<rect x="793" y="212" width="1" height="8" fill="#ef5350"/>
<rect x="791" y="213" width="5" height="6" fill="#ef5350"/>
<rect x="801" y="213" width="1" height="7" fill="#26a69a"/>
<rect x="799" y="215" width="5" height="4" fill="#26a69a"/>
<rect x="808" y="210" width="1" height="7" fill="#26a69a"/>
<rect x="806" y="211" width="5" height="5" fill="#26a69a"/>
<rect x="816" y="191" width="1" height="22" fill="#26a69a"/>
<rect x="814" y="194" width="5" height="18" fill="#26a69a"/>
<rect x="823" y="189" width="1" height="9" fill="#26a69a"/>
<rect x="821" y="194" width="5" height="1" fill="#26a69a"/>
<rect x="831" y="191" width="1" height="22" fill="#ef5350"/>
<rect x="829" y="194" width="5" height="16" fill="#ef5350"/>
<rect x="838" y="201" width="1" height="9" fill="#26a69a"/>
<rect x="836" y="204" width="5" height="6" fill="#26a69a"/>
<rect x="846" y="201" width="1" height="12" fill="#ef5350"/>
<rect x="844" y="204" width="5" height="7" fill="#ef5350"/>
<rect x="853" y="206" width="1" height="5" fill="#26a69a"/>
<rect x="851" y="208" width="5" height="3" fill="#26a69a"/>
<rect x="861" y="205" width="1" height="6" fill="#26a69a"/>
<rect x="859" y="208" width="5" height="1" fill="#26a69a"/>
<rect x="868" y="194" width="1" height="15" fill="#26a69a"/>
<rect x="866" y="197" width="5" height="12" fill="#26a69a"/>
<rect x="876" y="194" width="1" height="19" fill="#ef5350"/>
<rect x="874" y="197" width="5" height="3" fill="#ef5350"/>
<rect x="883" y="197" width="1" height="12" fill="#ef5350"/>
<rect x="881" y="199" width="5" height="8" fill="#ef5350"/>
<rect x="891" y="202" width="1" height="6" fill="#ef5350"/>
<rect x="889" y="206" width="5" height="2" fill="#ef5350"/>
<rect x="898" y="203" width="1" height="13" fill="#ef5350"/>
<rect x="896" y="207" width="5" height="8" fill="#ef5350"/>
<rect x="906" y="212" width="1" height="11" fill="#ef5350"/>
<rect x="904" y="214" width="5" height="6" fill="#ef5350"/>
<rect x="913" y="217" width="1" height="18" fill="#ef5350"/>
<rect x="911" y="219" width="5" height="15" fill="#ef5350"/>
<rect x="921" y="231" width="1" height="38" fill="#ef5350"/>
<rect x="919" y="233" width="5" height="32" fill="#ef5350"/>
<rect x="928" y="258" width="1" height="20" fill="#ef5350"/>
<rect x="926" y="264" width="5" height="4" fill="#ef5350"/>
<rect x="936" y="266" width="1" height="12" fill="#ef5350"/>
<rect x="934" y="267" width="5" height="10" fill="#ef5350"/>
<line x1="13" y1="276.5" x2="1015.0" y2="276.5" stroke="#ef5350" stroke-width="1" stroke-dasharray="1,2" shape-rendering="crispEdges"/>
</g>
<g stroke="#e0e3eb" stroke-width="1" shape-rendering="crispEdges"><line x1="13.0" y1="300.0" x2="1102" y2="300.0"/><line x1="13.0" y1="434.3" x2="1102" y2="434.3"/></g>
<g clip-path="url(#c2)">
<rect x="13.0" y="315.4" width="1002.0" height="87.6" fill="#7e57c2" fill-opacity="0.1"/>
<text x="23.3" y="325.8" font-size="15.5" fill="#131722" stroke="#131722" stroke-width="0.12" textLength="19.2" lengthAdjust="spacingAndGlyphs">RSI</text>
<text x="49.0" y="325.8" font-size="15.5" fill="#131722" stroke="#131722" stroke-width="0.12" textLength="23.7" lengthAdjust="spacingAndGlyphs">(14,</text>
<text x="79.5" y="325.8" font-size="15.5" fill="#131722" stroke="#131722" stroke-width="0.12" textLength="36.1" lengthAdjust="spacingAndGlyphs">close,</text>
<text x="123.6" y="325.8" font-size="15.5" fill="#131722" stroke="#131722" stroke-width="0.12" textLength="29.9" lengthAdjust="spacingAndGlyphs">SMA,</text>
<text x="162.1" y="325.8" font-size="15.5" fill="#131722" stroke="#131722" stroke-width="0.12" textLength="17.2" lengthAdjust="spacingAndGlyphs">14,</text>
<text x="186.6" y="325.8" font-size="15.5" fill="#131722" stroke="#131722" stroke-width="0.12" textLength="11.9" lengthAdjust="spacingAndGlyphs">2)</text>
<text x="208.8" y="325.8" font-size="15.5" fill="#7e57c2" stroke="#7e57c2" stroke-width="0.12" textLength="35.0" lengthAdjust="spacingAndGlyphs">21.60</text>
<text x="254.1" y="325.8" font-size="15.5" fill="#ffeb3b" stroke="#ffeb3b" stroke-width="0.5" textLength="36.7" lengthAdjust="spacingAndGlyphs">39.70</text>
<text x="300.5" y="326.0" font-size="11.8" style="font-family:'DejaVu Sans','Liberation Sans',sans-serif" fill="#131722" stroke="#131722" stroke-width="0.35" textLength="7.7" lengthAdjust="spacingAndGlyphs">∅</text>
<text x="319.7" y="326.0" font-size="11.8" style="font-family:'DejaVu Sans','Liberation Sans',sans-serif" fill="#131722" stroke="#131722" stroke-width="0.35" textLength="7.7" lengthAdjust="spacingAndGlyphs">∅</text>
<g stroke="#787b86" stroke-width="1" stroke-dasharray="5,6" shape-rendering="crispEdges"><line x1="13.0" y1="315.4" x2="1015.0" y2="315.4"/><line x1="13.0" y1="403.0" x2="1015.0" y2="403.0"/><line x1="13.0" y1="359.2" x2="1015.0" y2="359.2" stroke-opacity="0.5"/></g>
<path d="M13.10,355.61 L20.60,353.04 L28.09,350.71 L35.59,347.43 L43.08,343.65 L50.58,342.40 L58.08,344.34 L65.57,346.09 L73.07,349.19 L80.56,353.56 L88.06,357.15 L95.56,361.33 L103.05,364.08 L110.55,365.44 L118.04,366.75 L125.54,368.67 L133.04,368.15 L140.53,368.34 L148.03,368.27 L155.52,366.82 L163.02,366.53 L170.52,366.20 L178.01,365.41 L185.51,364.21 L193.00,363.47 L200.50,360.85 L208.00,360.02 L215.49,360.02 L222.99,359.92 L230.48,359.52 L237.98,360.96 L245.48,363.02 L252.97,363.96 L260.47,364.25 L267.96,362.72 L275.46,361.12 L282.96,359.66 L290.45,358.17 L297.95,356.41 L305.44,355.86 L312.94,353.74 L320.44,351.21 L327.93,348.63 L335.43,344.69 L342.92,341.56 L350.42,338.14 L357.92,335.87 L365.41,334.76 L372.91,333.65 L380.40,333.11 L387.90,331.72 L395.40,330.11 L402.89,330.06 L410.39,331.82 L417.88,333.89 L425.38,336.80 L432.88,339.44 L440.37,343.37 L447.87,348.69 L455.36,353.71 L462.86,357.65 L470.36,360.91 L477.85,364.11 L485.35,367.03 L492.84,370.63 L500.34,373.46 L507.84,374.92 L515.33,374.91 L522.83,375.62 L530.32,376.09 L537.82,377.07 L545.32,377.68 L552.81,376.14 L560.31,376.36 L567.80,376.45 L575.30,375.56 L582.80,375.77 L590.29,376.37 L597.79,375.95 L605.28,376.33 L612.78,377.65 L620.28,377.40 L627.77,378.21 L635.27,378.79 L642.76,379.44 L650.26,380.66 L657.76,383.89 L665.25,385.12 L672.75,387.74 L680.24,390.76 L687.74,392.92 L695.24,394.00 L702.73,394.86 L710.23,396.29 L717.72,396.87 L725.22,399.53 L732.72,399.54 L740.21,399.73 L747.71,399.54 L755.20,398.24 L762.70,396.28 L770.20,394.61 L777.69,392.50 L785.19,390.54 L792.68,389.04 L800.18,387.80 L807.68,387.09 L815.17,384.27 L822.67,381.80 L830.16,379.91 L837.66,378.64 L845.16,377.38 L852.65,376.16 L860.15,375.46 L867.64,373.22 L875.14,371.52 L882.64,370.40 L890.13,369.18 L897.63,368.36 L905.12,368.26 L912.62,369.47 L920.12,373.65 L927.61,377.97 L935.11,381.40" fill="none" stroke="#f3dc3e" stroke-width="1.3" stroke-linejoin="round"/>
<path d="M13.10,350.12 L20.60,351.83 L28.09,347.35 L35.59,331.25 L43.08,338.90 L50.58,368.82 L58.08,372.66 L65.57,371.67 L73.07,383.46 L80.56,391.65 L88.06,379.64 L95.56,385.67 L103.05,375.52 L110.55,367.67 L118.04,368.44 L125.54,378.65 L133.04,340.14 L140.53,333.88 L148.03,337.95 L155.52,348.54 L163.02,368.61 L170.52,367.01 L178.01,372.44 L185.51,374.83 L193.00,369.30 L200.50,348.89 L208.00,363.91 L215.49,367.66 L222.99,367.14 L230.48,373.02 L237.98,360.27 L245.48,362.69 L252.97,351.17 L260.47,352.53 L267.96,347.30 L275.46,344.55 L282.96,351.98 L290.45,354.03 L297.95,344.58 L305.44,341.19 L312.94,334.21 L320.44,332.25 L327.93,330.99 L335.43,317.92 L342.92,316.45 L350.42,314.85 L357.92,319.36 L365.41,336.98 L372.91,331.77 L380.40,336.91 L387.90,332.65 L395.40,331.40 L402.89,343.97 L410.39,365.77 L417.88,363.24 L425.38,372.95 L432.88,367.99 L440.37,372.89 L447.87,390.89 L455.36,385.18 L462.86,374.46 L470.36,382.64 L477.85,376.61 L485.35,377.86 L492.84,382.94 L500.34,371.12 L507.84,364.37 L515.33,365.57 L522.83,373.24 L530.32,379.51 L537.82,381.65 L545.32,381.54 L552.81,369.34 L560.31,388.22 L567.80,375.63 L575.30,370.30 L582.80,379.44 L590.29,386.37 L597.79,377.07 L605.28,376.43 L612.78,382.81 L620.28,362.08 L627.77,384.51 L635.27,387.66 L642.76,390.81 L650.26,398.58 L657.76,414.61 L665.25,405.44 L672.75,412.26 L680.24,412.51 L687.74,409.80 L695.24,401.39 L702.73,389.12 L710.23,396.44 L717.72,390.92 L725.22,399.37 L732.72,384.62 L740.21,390.38 L747.71,388.13 L755.20,380.34 L762.70,387.19 L770.20,382.07 L777.69,382.77 L785.19,385.00 L792.68,388.75 L800.18,384.16 L807.68,379.16 L815.17,356.89 L822.67,356.30 L830.16,372.94 L837.66,366.85 L845.16,372.74 L852.65,371.08 L860.15,370.49 L867.64,355.83 L875.14,358.28 L882.64,367.09 L890.13,367.98 L897.63,377.24 L905.12,382.81 L912.62,396.02 L920.12,415.46 L927.61,416.74 L935.11,421.03" fill="none" stroke="#7e57c2" stroke-width="1.3" stroke-linejoin="round"/>
</g>
<g clip-path="url(#c3)">
<line x1="13.0" y1="489.0" x2="1015.0" y2="489.0" stroke="#787b86" stroke-opacity="0.6" stroke-width="1" stroke-dasharray="5,6" shape-rendering="crispEdges"/>
<rect x="10.70" y="474.51" width="6.6" height="14.49" fill="#b2dfdb"/>
<rect x="18.20" y="477.81" width="6.6" height="11.19" fill="#b2dfdb"/>
<rect x="25.69" y="479.77" width="6.6" height="9.23" fill="#b2dfdb"/>
<rect x="33.19" y="478.56" width="6.6" height="10.44" fill="#26a69a"/>
<rect x="40.68" y="479.38" width="6.6" height="9.62" fill="#b2dfdb"/>
<rect x="48.18" y="485.40" width="6.6" height="3.60" fill="#b2dfdb"/>
<rect x="55.68" y="489.00" width="6.6" height="1.23" fill="#ff5252"/>
<rect x="63.17" y="489.00" width="6.6" height="4.12" fill="#ff5252"/>
<rect x="70.67" y="489.00" width="6.6" height="8.27" fill="#ff5252"/>
<rect x="78.16" y="489.00" width="6.6" height="12.51" fill="#ff5252"/>
<rect x="85.66" y="489.00" width="6.6" height="12.73" fill="#ff5252"/>
<rect x="93.16" y="489.00" width="6.6" height="13.64" fill="#ff5252"/>
<rect x="100.65" y="489.00" width="6.6" height="11.87" fill="#ffcdd2"/>
<rect x="108.15" y="489.00" width="6.6" height="8.76" fill="#ffcdd2"/>
<rect x="115.64" y="489.00" width="6.6" height="6.42" fill="#ffcdd2"/>
<rect x="123.14" y="489.00" width="6.6" height="6.59" fill="#ff5252"/>
<rect x="130.64" y="487.23" width="6.6" height="1.77" fill="#26a69a"/>
<rect x="138.13" y="480.11" width="6.6" height="8.89" fill="#26a69a"/>
<rect x="145.63" y="476.80" width="6.6" height="12.20" fill="#26a69a"/>
<rect x="153.12" y="477.41" width="6.6" height="11.59" fill="#b2dfdb"/>
<rect x="160.62" y="483.22" width="6.6" height="5.78" fill="#b2dfdb"/>
<rect x="168.12" y="486.77" width="6.6" height="2.23" fill="#b2dfdb"/>
<rect x="175.61" y="489.00" width="6.6" height="1.53" fill="#ff5252"/>
<rect x="183.11" y="489.00" width="6.6" height="4.41" fill="#ff5252"/>
<rect x="190.60" y="489.00" width="6.6" height="4.87" fill="#ff5252"/>
<rect x="198.10" y="489.00" width="6.6" height="0.80" fill="#ffcdd2"/>
<rect x="205.60" y="489.00" width="6.6" height="0.82" fill="#ff5252"/>
<rect x="213.09" y="489.00" width="6.6" height="2.18" fill="#ff5252"/>
<rect x="220.59" y="489.00" width="6.6" height="2.75" fill="#ff5252"/>
<rect x="228.08" y="489.00" width="6.6" height="4.41" fill="#ff5252"/>
<rect x="235.58" y="489.00" width="6.6" height="2.38" fill="#ffcdd2"/>
<rect x="243.08" y="489.00" width="6.6" height="1.48" fill="#ffcdd2"/>
<rect x="250.57" y="487.07" width="6.6" height="1.93" fill="#26a69a"/>
<rect x="258.07" y="485.25" width="6.6" height="3.75" fill="#26a69a"/>
<rect x="265.56" y="483.01" width="6.6" height="5.99" fill="#26a69a"/>
<rect x="273.06" y="481.22" width="6.6" height="7.78" fill="#26a69a"/>
<rect x="280.56" y="481.85" width="6.6" height="7.15" fill="#b2dfdb"/>
<rect x="288.05" y="482.99" width="6.6" height="6.01" fill="#b2dfdb"/>
<rect x="295.55" y="482.01" width="6.6" height="6.99" fill="#26a69a"/>
<rect x="303.04" y="481.02" width="6.6" height="7.98" fill="#26a69a"/>
<rect x="310.54" y="479.22" width="6.6" height="9.78" fill="#26a69a"/>
<rect x="318.04" y="478.19" width="6.6" height="10.81" fill="#26a69a"/>
<rect x="325.53" y="477.90" width="6.6" height="11.10" fill="#26a69a"/>
<rect x="333.03" y="475.00" width="6.6" height="14.00" fill="#26a69a"/>
<rect x="340.52" y="473.62" width="6.6" height="15.38" fill="#26a69a"/>
<rect x="348.02" y="473.28" width="6.6" height="15.72" fill="#26a69a"/>
<rect x="355.52" y="474.63" width="6.6" height="14.37" fill="#b2dfdb"/>
<rect x="363.01" y="478.76" width="6.6" height="10.24" fill="#b2dfdb"/>
<rect x="370.51" y="481.01" width="6.6" height="7.99" fill="#b2dfdb"/>
<rect x="378.00" y="483.81" width="6.6" height="5.19" fill="#b2dfdb"/>
<rect x="385.50" y="485.26" width="6.6" height="3.74" fill="#b2dfdb"/>
<rect x="393.00" y="486.41" width="6.6" height="2.59" fill="#b2dfdb"/>
<rect x="400.49" y="489.00" width="6.6" height="0.80" fill="#ff5252"/>
<rect x="407.99" y="489.00" width="6.6" height="5.61" fill="#ff5252"/>
<rect x="415.48" y="489.00" width="6.6" height="8.61" fill="#ff5252"/>
<rect x="422.98" y="489.00" width="6.6" height="12.07" fill="#ff5252"/>
<rect x="430.48" y="489.00" width="6.6" height="13.12" fill="#ff5252"/>
<rect x="437.97" y="489.00" width="6.6" height="14.18" fill="#ff5252"/>
<rect x="445.47" y="489.00" width="6.6" height="18.14" fill="#ff5252"/>
<rect x="452.96" y="489.00" width="6.6" height="19.02" fill="#ff5252"/>
<rect x="460.46" y="489.00" width="6.6" height="17.10" fill="#ffcdd2"/>
<rect x="467.96" y="489.00" width="6.6" height="16.83" fill="#ffcdd2"/>
<rect x="475.45" y="489.00" width="6.6" height="14.90" fill="#ffcdd2"/>
<rect x="482.95" y="489.00" width="6.6" height="13.16" fill="#ffcdd2"/>
<rect x="490.44" y="489.00" width="6.6" height="12.36" fill="#ffcdd2"/>
<rect x="497.94" y="489.00" width="6.6" height="9.50" fill="#ffcdd2"/>
<rect x="505.44" y="489.00" width="6.6" height="6.10" fill="#ffcdd2"/>
<rect x="512.93" y="489.00" width="6.6" height="3.74" fill="#ffcdd2"/>
<rect x="520.43" y="489.00" width="6.6" height="3.24" fill="#ffcdd2"/>
<rect x="527.92" y="489.00" width="6.6" height="3.77" fill="#ff5252"/>
<rect x="535.42" y="489.00" width="6.6" height="4.17" fill="#ff5252"/>
<rect x="542.92" y="489.00" width="6.6" height="4.05" fill="#ffcdd2"/>
<rect x="550.41" y="489.00" width="6.6" height="2.18" fill="#ffcdd2"/>
<rect x="557.91" y="489.00" width="6.6" height="4.14" fill="#ff5252"/>
<rect x="565.40" y="489.00" width="6.6" height="3.34" fill="#ffcdd2"/>
<rect x="572.90" y="489.00" width="6.6" height="1.75" fill="#ffcdd2"/>
<rect x="580.40" y="489.00" width="6.6" height="2.17" fill="#ff5252"/>
<rect x="587.89" y="489.00" width="6.6" height="3.55" fill="#ff5252"/>
<rect x="595.39" y="489.00" width="6.6" height="2.82" fill="#ffcdd2"/>
<rect x="602.88" y="489.00" width="6.6" height="1.94" fill="#ffcdd2"/>
<rect x="610.38" y="489.00" width="6.6" height="2.25" fill="#ff5252"/>
<rect x="617.88" y="488.25" width="6.6" height="0.80" fill="#26a69a"/>
<rect x="625.37" y="489.00" width="6.6" height="1.81" fill="#ff5252"/>
<rect x="632.87" y="489.00" width="6.6" height="3.91" fill="#ff5252"/>
<rect x="640.36" y="489.00" width="6.6" height="5.60" fill="#ff5252"/>
<rect x="647.86" y="489.00" width="6.6" height="8.24" fill="#ff5252"/>
<rect x="655.36" y="489.00" width="6.6" height="15.03" fill="#ff5252"/>
<rect x="662.85" y="489.00" width="6.6" height="16.84" fill="#ff5252"/>
<rect x="670.35" y="489.00" width="6.6" height="19.58" fill="#ff5252"/>
<rect x="677.84" y="489.00" width="6.6" height="20.02" fill="#ff5252"/>
<rect x="685.34" y="489.00" width="6.6" height="18.46" fill="#ffcdd2"/>
<rect x="692.84" y="489.00" width="6.6" height="14.89" fill="#ffcdd2"/>
<rect x="700.33" y="489.00" width="6.6" height="9.56" fill="#ffcdd2"/>
<rect x="707.83" y="489.00" width="6.6" height="7.35" fill="#ffcdd2"/>
<rect x="715.32" y="489.00" width="6.6" height="4.22" fill="#ffcdd2"/>
<rect x="722.82" y="489.00" width="6.6" height="4.04" fill="#ffcdd2"/>
<rect x="730.32" y="489.00" width="6.6" height="0.82" fill="#ffcdd2"/>
<rect x="737.81" y="488.85" width="6.6" height="0.80" fill="#26a69a"/>
<rect x="745.31" y="487.35" width="6.6" height="1.65" fill="#26a69a"/>
<rect x="752.80" y="484.72" width="6.6" height="4.28" fill="#26a69a"/>
<rect x="760.30" y="484.50" width="6.6" height="4.50" fill="#26a69a"/>
<rect x="767.80" y="483.27" width="6.6" height="5.73" fill="#26a69a"/>
<rect x="775.29" y="482.47" width="6.6" height="6.53" fill="#26a69a"/>
<rect x="782.79" y="482.31" width="6.6" height="6.69" fill="#26a69a"/>
<rect x="790.28" y="482.93" width="6.6" height="6.07" fill="#b2dfdb"/>
<rect x="797.78" y="482.58" width="6.6" height="6.42" fill="#26a69a"/>
<rect x="805.28" y="481.61" width="6.6" height="7.39" fill="#26a69a"/>
<rect x="812.77" y="477.63" width="6.6" height="11.37" fill="#26a69a"/>
<rect x="820.27" y="475.23" width="6.6" height="13.77" fill="#26a69a"/>
<rect x="827.76" y="477.00" width="6.6" height="12.00" fill="#b2dfdb"/>
<rect x="835.26" y="477.44" width="6.6" height="11.56" fill="#b2dfdb"/>
<rect x="842.76" y="479.11" width="6.6" height="9.89" fill="#b2dfdb"/>
<rect x="850.25" y="480.13" width="6.6" height="8.87" fill="#b2dfdb"/>
<rect x="857.75" y="480.88" width="6.6" height="8.12" fill="#b2dfdb"/>
<rect x="865.24" y="479.39" width="6.6" height="9.61" fill="#26a69a"/>
<rect x="872.74" y="479.08" width="6.6" height="9.92" fill="#26a69a"/>
<rect x="880.24" y="480.54" width="6.6" height="8.46" fill="#b2dfdb"/>
<rect x="887.73" y="481.85" width="6.6" height="7.15" fill="#b2dfdb"/>
<rect x="895.23" y="484.35" width="6.6" height="4.65" fill="#b2dfdb"/>
<rect x="902.72" y="486.98" width="6.6" height="2.02" fill="#b2dfdb"/>
<rect x="910.22" y="489.00" width="6.6" height="2.28" fill="#ff5252"/>
<rect x="917.72" y="489.00" width="6.6" height="10.69" fill="#ff5252"/>
<rect x="925.21" y="489.00" width="6.6" height="15.72" fill="#ff5252"/>
<rect x="932.71" y="489.00" width="6.6" height="19.61" fill="#ff5252"/>
<path d="M13.10,491.26 L20.60,488.47 L28.09,486.16 L35.59,483.55 L43.08,481.14 L50.58,480.24 L58.08,480.55 L65.57,481.58 L73.07,483.65 L80.56,486.77 L88.06,489.96 L95.56,493.37 L103.05,496.34 L110.55,498.53 L118.04,500.13 L125.54,501.78 L133.04,501.34 L140.53,499.11 L148.03,496.06 L155.52,493.17 L163.02,491.72 L170.52,491.16 L178.01,491.54 L185.51,492.65 L193.00,493.86 L200.50,493.90 L208.00,494.10 L215.49,494.65 L222.99,495.33 L230.48,496.44 L237.98,497.03 L245.48,497.40 L252.97,496.92 L260.47,495.98 L267.96,494.49 L275.46,492.54 L282.96,490.75 L290.45,489.25 L297.95,487.50 L305.44,485.51 L312.94,483.06 L320.44,480.36 L327.93,477.58 L335.43,474.08 L342.92,470.24 L350.42,466.31 L357.92,462.71 L365.41,460.15 L372.91,458.16 L380.40,456.86 L387.90,455.92 L395.40,455.28 L402.89,455.32 L410.39,456.72 L417.88,458.87 L425.38,461.89 L432.88,465.17 L440.37,468.72 L447.87,473.25 L455.36,478.01 L462.86,482.28 L470.36,486.49 L477.85,490.21 L485.35,493.50 L492.84,496.59 L500.34,498.97 L507.84,500.49 L515.33,501.43 L522.83,502.24 L530.32,503.18 L537.82,504.22 L545.32,505.24 L552.81,505.78 L560.31,506.82 L567.80,507.65 L575.30,508.09 L582.80,508.63 L590.29,509.52 L597.79,510.22 L605.28,510.70 L612.78,511.27 L620.28,511.08 L627.77,511.53 L635.27,512.51 L642.76,513.91 L650.26,515.97 L657.76,519.73 L665.25,523.94 L672.75,528.83 L680.24,533.84 L687.74,538.45 L695.24,542.18 L702.73,544.57 L710.23,546.40 L717.72,547.46 L725.22,548.47 L732.72,548.67 L740.21,548.64 L747.71,548.23 L755.20,547.15 L762.70,546.03 L770.20,544.60 L777.69,542.96 L785.19,541.29 L792.68,539.77 L800.18,538.17 L807.68,536.32 L815.17,533.47 L822.67,530.03 L830.16,527.03 L837.66,524.14 L845.16,521.67 L852.65,519.45 L860.15,517.42 L867.64,515.02 L875.14,512.54 L882.64,510.42 L890.13,508.64 L897.63,507.47 L905.12,506.97 L912.62,507.54 L920.12,510.21 L927.61,514.14 L935.11,519.05" fill="none" stroke="#ff6d00" stroke-width="1.3" stroke-linejoin="round"/>
<path d="M13.10,476.77 L20.60,477.28 L28.09,476.93 L35.59,473.10 L43.08,471.52 L50.58,476.64 L58.08,481.78 L65.57,485.70 L73.07,491.92 L80.56,499.28 L88.06,502.69 L95.56,507.01 L103.05,508.21 L110.55,507.29 L118.04,506.55 L125.54,508.37 L133.04,499.56 L140.53,490.22 L148.03,483.86 L155.52,481.58 L163.02,485.94 L170.52,488.93 L178.01,493.07 L185.51,497.06 L193.00,498.73 L200.50,494.04 L208.00,494.93 L215.49,496.83 L222.99,498.08 L230.48,500.85 L237.98,499.41 L245.48,498.88 L252.97,494.99 L260.47,492.23 L267.96,488.50 L275.46,484.76 L282.96,483.60 L290.45,483.24 L297.95,480.51 L305.44,477.53 L312.94,473.28 L320.44,469.55 L327.93,466.48 L335.43,460.08 L342.92,454.86 L350.42,450.58 L357.92,448.34 L365.41,449.91 L372.91,450.16 L380.40,451.67 L387.90,452.18 L395.40,452.69 L402.89,455.48 L410.39,462.33 L417.88,467.49 L425.38,473.96 L432.88,478.29 L440.37,482.89 L447.87,491.39 L455.36,497.02 L462.86,499.38 L470.36,503.31 L477.85,505.12 L485.35,506.66 L492.84,508.96 L500.34,508.47 L507.84,506.59 L515.33,505.17 L522.83,505.48 L530.32,506.95 L537.82,508.39 L545.32,509.28 L552.81,507.96 L560.31,510.95 L567.80,510.99 L575.30,509.83 L582.80,510.79 L590.29,513.07 L597.79,513.04 L605.28,512.64 L612.78,513.52 L620.28,510.33 L627.77,513.34 L635.27,516.42 L642.76,519.51 L650.26,524.21 L657.76,534.76 L665.25,540.78 L672.75,548.42 L680.24,553.86 L687.74,556.91 L695.24,557.06 L702.73,554.13 L710.23,553.75 L717.72,551.68 L725.22,552.51 L732.72,549.49 L740.21,548.49 L747.71,546.58 L755.20,542.87 L762.70,541.52 L770.20,538.87 L777.69,536.43 L785.19,534.60 L792.68,533.70 L800.18,531.74 L807.68,528.92 L815.17,522.10 L822.67,516.26 L830.16,515.03 L837.66,512.58 L845.16,511.78 L852.65,510.59 L860.15,509.31 L867.64,505.40 L875.14,502.62 L882.64,501.96 L890.13,501.48 L897.63,502.83 L905.12,504.95 L912.62,509.82 L920.12,520.91 L927.61,529.87 L935.11,538.66" fill="none" stroke="#2962ff" stroke-width="1.3" stroke-linejoin="round"/>
</g>
<text x="1027.8" y="55.8" font-size="15.5" fill="#131722" stroke="#131722" stroke-width="0.12" textLength="34.4" lengthAdjust="spacingAndGlyphs">USDT</text>
<text x="1028.2" y="99.0" font-size="15.5" fill="#131722" stroke="#131722" stroke-width="0.12" textLength="61.3" lengthAdjust="spacingAndGlyphs">45000.00</text>
<text x="1028.2" y="136.8" font-size="15.5" fill="#131722" stroke="#131722" stroke-width="0.12" textLength="61.3" lengthAdjust="spacingAndGlyphs">40000.00</text>
<text x="1028.2" y="212.6" font-size="15.5" fill="#131722" stroke="#131722" stroke-width="0.12" textLength="61.3" lengthAdjust="spacingAndGlyphs">30000.00</text>
<text x="1028.2" y="250.4" font-size="15.5" fill="#131722" stroke="#131722" stroke-width="0.12" textLength="61.3" lengthAdjust="spacingAndGlyphs">25000.00</text>
<text x="1028.2" y="342.5" font-size="15.5" fill="#131722" stroke="#131722" stroke-width="0.12" textLength="37.3" lengthAdjust="spacingAndGlyphs">60.00</text>
<text x="1028.2" y="448.6" font-size="15.5" fill="#131722" stroke="#131722" stroke-width="0.12" textLength="53.3" lengthAdjust="spacingAndGlyphs">2000.00</text>
<text x="1028.2" y="494.6" font-size="15.5" fill="#131722" stroke="#131722" stroke-width="0.12" textLength="29.8" lengthAdjust="spacingAndGlyphs">0.00</text>
<g><path d="M1015,161.20 H1094.40 Q1096.60,161.20 1096.60,163.40 V179.20 Q1096.60,181.40 1094.40,181.40 H1015 Z" fill="#2962ff"/><text x="1028.2" y="176.4" font-size="15.5" fill="#fff" stroke="#fff" stroke-width="0.3" textLength="61.3" lengthAdjust="spacingAndGlyphs">34837.47</text></g>
<g><path d="M1015,208.40 H1094.40 Q1096.60,208.40 1096.60,210.60 V226.40 Q1096.60,228.60 1094.40,228.60 H1015 Z" fill="#ff6d00"/><text x="1028.2" y="223.6" font-size="15.5" fill="#fff" stroke="#fff" stroke-width="0.3" textLength="61.3" lengthAdjust="spacingAndGlyphs">28642.55</text></g>
<g><path d="M1015,245.40 H1094.40 Q1096.60,245.40 1096.60,247.60 V263.40 Q1096.60,265.60 1094.40,265.60 H1015 Z" fill="#2962ff"/><text x="1028.2" y="260.6" font-size="15.5" fill="#fff" stroke="#fff" stroke-width="0.3" textLength="61.3" lengthAdjust="spacingAndGlyphs">22447.63</text></g>
<g><path d="M1015,266.20 H1094.40 Q1096.60,266.20 1096.60,268.40 V284.20 Q1096.60,286.40 1094.40,286.40 H1015 Z" fill="#ef5350"/><text x="1028.2" y="281.4" font-size="15.5" fill="#fff" stroke="#fff" stroke-width="0.3" textLength="61.3" lengthAdjust="spacingAndGlyphs">20918.66</text></g>
<g clip-path="url(#cl)"><path d="M1015,286.90 H1087.10 Q1089.30,286.90 1089.30,289.10 V304.90 Q1089.30,307.10 1087.10,307.10 H1015 Z" fill="#ef5350"/><text x="1028.2" y="302.1" font-size="15.5" fill="#fff" stroke="#fff" stroke-width="0.3" textLength="53.8" lengthAdjust="spacingAndGlyphs">48.667K</text></g>
<g><path d="M1015,372.30 H1071.40 Q1073.60,372.30 1073.60,374.50 V390.30 Q1073.60,392.50 1071.40,392.50 H1015 Z" fill="#ffeb3b"/><text x="1028.2" y="387.5" font-size="15.5" fill="#131722" stroke="#131722" stroke-width="0.12" textLength="37.3" lengthAdjust="spacingAndGlyphs">39.70</text></g>
<g><path d="M1015,412.30 H1071.40 Q1073.60,412.30 1073.60,414.50 V430.30 Q1073.60,432.50 1071.40,432.50 H1015 Z" fill="#7e57c2"/><text x="1028.2" y="427.5" font-size="15.5" fill="#fff" stroke="#fff" stroke-width="0.3" textLength="37.3" lengthAdjust="spacingAndGlyphs">21.60</text></g>
<g><path d="M1015,499.50 H1087.80 Q1090.00,499.50 1090.00,501.70 V517.50 Q1090.00,519.70 1087.80,519.70 H1015 Z" fill="#ff5252"/><text x="1028.2" y="514.7" font-size="15.5" fill="#fff" stroke="#fff" stroke-width="0.3" textLength="53.3" lengthAdjust="spacingAndGlyphs">−852.76</text></g>
<g><path d="M1015,520.30 H1094.80 Q1097.00,520.30 1097.00,522.50 V538.30 Q1097.00,540.50 1094.80,540.50 H1015 Z" fill="#ff6d00"/><text x="1028.2" y="535.5" font-size="15.5" fill="#fff" stroke="#fff" stroke-width="0.3" textLength="61.3" lengthAdjust="spacingAndGlyphs">−1306.38</text></g>
<g><path d="M1015,541.30 H1094.80 Q1097.00,541.30 1097.00,543.50 V559.30 Q1097.00,561.50 1094.80,561.50 H1015 Z" fill="#2962ff"/><text x="1028.2" y="556.5" font-size="15.5" fill="#fff" stroke="#fff" stroke-width="0.3" textLength="61.3" lengthAdjust="spacingAndGlyphs">−2159.14</text></g>
<text x="28.8" y="591.8" font-size="15.5" fill="#131722" textLength="14.1" lengthAdjust="spacingAndGlyphs" stroke="#131722" stroke-width="0.12">15</text>
<text x="128.1" y="591.8" font-size="15.5" fill="#131722" textLength="25.6" lengthAdjust="spacingAndGlyphs" font-weight="bold">Mar</text>
<text x="238.8" y="591.8" font-size="15.5" fill="#131722" textLength="14.1" lengthAdjust="spacingAndGlyphs" stroke="#131722" stroke-width="0.12">15</text>
<text x="360.8" y="591.8" font-size="15.5" fill="#131722" textLength="24.2" lengthAdjust="spacingAndGlyphs" font-weight="bold">Apr</text>
<text x="470.8" y="591.8" font-size="15.5" fill="#131722" textLength="14.1" lengthAdjust="spacingAndGlyphs" stroke="#131722" stroke-width="0.12">15</text>
<text x="584.7" y="591.8" font-size="15.5" fill="#131722" textLength="26.4" lengthAdjust="spacingAndGlyphs" font-weight="bold">May</text>
<text x="703.6" y="591.8" font-size="15.5" fill="#131722" textLength="14.6" lengthAdjust="spacingAndGlyphs" stroke="#131722" stroke-width="0.12">16</text>
<text x="818.6" y="591.8" font-size="15.5" fill="#131722" textLength="24.5" lengthAdjust="spacingAndGlyphs" font-weight="bold">Jun</text>
<text x="965.6" y="591.8" font-size="15.5" fill="#131722" textLength="14.6" lengthAdjust="spacingAndGlyphs" stroke="#131722" stroke-width="0.12">20</text>
<rect x="12.9" y="34" width="1089.3" height="569.9" fill="none" stroke="#eef0f5" stroke-width="1.8"/>
<g fill="#131722"><path d="M12.9,619.9 h10.4 v11.7 h-5.3 v-6.8 h-5.1z"/><circle cx="26.3" cy="622.4" r="2.2"/><path d="M30.6,619.9 h6.4 l-5.0,11.7 h-6.2z"/></g>
<text x="42.4" y="631.3" font-size="16.6" fill="#131722" fill-opacity="0.92" textLength="86.4" lengthAdjust="spacingAndGlyphs">TradingView</text>
</svg></body></html>
